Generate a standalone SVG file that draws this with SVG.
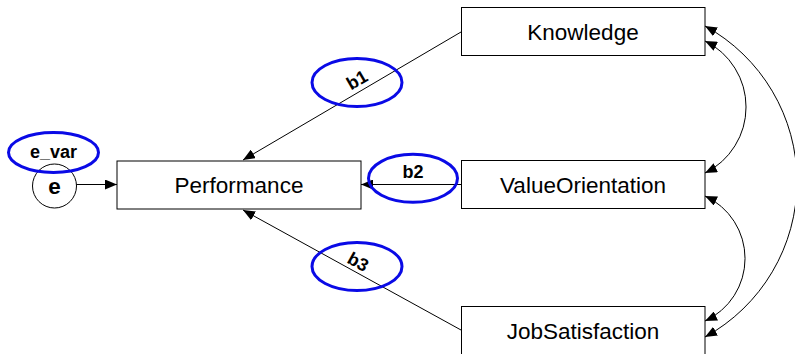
<svg xmlns="http://www.w3.org/2000/svg" width="795" height="354" viewBox="0 0 795 354">
  <style>
    .box { fill: #ffffff; stroke: #000000; stroke-width: 1; }
    .lbl { font-family: "Liberation Sans", Arial, sans-serif; font-size: 22.5px; fill: #000000; text-anchor: middle; }
    .par { font-family: "Liberation Sans", Arial, sans-serif; font-size: 18px; font-weight: bold; fill: #000000; text-anchor: middle; }
    .tag { fill: none; stroke: #0a0ae6; stroke-width: 3; }
    .edge { fill: none; stroke: #000000; stroke-width: 1; }
  </style>
  <defs>
    <marker id="ah" markerWidth="12" markerHeight="10" refX="12" refY="5" orient="auto-start-reverse" markerUnits="userSpaceOnUse">
      <path d="M0,0 L12,5 L0,10 z" fill="#000000"/>
    </marker>
  </defs>
  <rect width="795" height="354" fill="#ffffff"/>

  <!-- paths and covariances -->
  <g id="connectors">
    <line class="edge" x1="461" y1="32" x2="243" y2="160" marker-end="url(#ah)"/>
    <line class="edge" x1="461" y1="184.5" x2="361" y2="184.5" marker-end="url(#ah)"/>
    <line class="edge" x1="461" y1="330" x2="243" y2="210" marker-end="url(#ah)"/>
    <line class="edge" x1="76" y1="184.5" x2="117" y2="184.5" marker-end="url(#ah)"/>
    <path class="edge" d="M705,41 A73.6,73.6 0 0 1 705,173" marker-start="url(#ah)" marker-end="url(#ah)"/>
    <path class="edge" d="M705,196 A68.8,68.8 0 0 1 705,321" marker-start="url(#ah)" marker-end="url(#ah)"/>
    <path class="edge" d="M705,26 A177.4,177.4 0 0 1 705,337" marker-start="url(#ah)" marker-end="url(#ah)"/>
  </g>

  <g id="performance">
    <rect class="box" x="117" y="161" width="244" height="48"/>
    <text class="lbl" x="239" y="192.5">Performance</text>
  </g>
  <g id="knowledge">
    <rect class="box" x="461.5" y="7.5" width="243.5" height="48"/>
    <text class="lbl" x="583" y="39.5">Knowledge</text>
  </g>
  <g id="value-orientation">
    <rect class="box" x="461.5" y="160.5" width="243.5" height="48"/>
    <text class="lbl" x="583" y="192.5">ValueOrientation</text>
  </g>
  <g id="job-satisfaction">
    <rect class="box" x="461.5" y="306.5" width="243.5" height="48"/>
    <text class="lbl" x="583" y="338.5">JobSatisfaction</text>
  </g>
  <g id="e">
    <circle class="box" cx="54.5" cy="186" r="22"/>
    <text class="lbl" x="54.5" y="193.5" font-weight="bold">e</text>
  </g>

  <!-- parameter tags -->
  <g id="e_var">
    <ellipse class="tag" cx="53.5" cy="152.5" rx="45" ry="20"/>
    <text class="par" x="53.5" y="158">e_var</text>
  </g>
  <g id="b1">
    <ellipse class="tag" cx="357" cy="82.5" rx="45" ry="24"/>
    <text class="par" transform="translate(357,80) rotate(-30)" y="6">b1</text>
  </g>
  <g id="b2">
    <ellipse class="tag" cx="413" cy="178.3" rx="44.5" ry="24"/>
    <text class="par" x="413" y="178">b2</text>
  </g>
  <g id="b3">
    <ellipse class="tag" cx="357" cy="266.5" rx="45" ry="24"/>
    <text class="par" transform="translate(358,262) rotate(29)" y="6">b3</text>
  </g>
</svg>
